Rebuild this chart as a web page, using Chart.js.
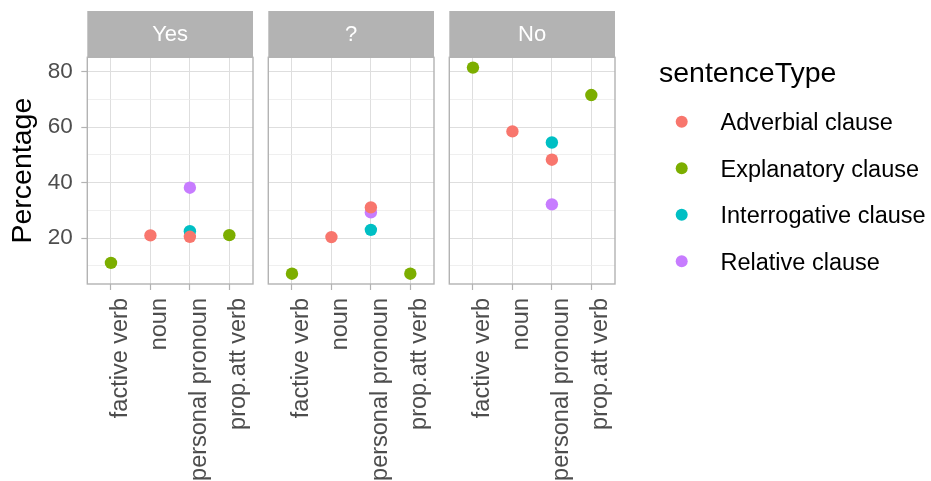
<!DOCTYPE html>
<html>
<head>
<meta charset="utf-8">
<script src="https://cdn.jsdelivr.net/npm/chart.js@4/dist/chart.umd.min.js"></script>
<style>
  html, body { margin: 0; padding: 0; background: #ffffff; }
  #wrap { position: relative; width: 931px; height: 481px; overflow: hidden; }
  #wrap canvas { position: absolute; left: 0; top: 0; }
</style>
</head>
<body>
<div id="wrap">
  <canvas id="p0" width="931" height="481"></canvas>
  <canvas id="p1" width="931" height="481"></canvas>
  <canvas id="p2" width="931" height="481"></canvas>
</div>
<script>
// Categories on the x axis of every facet
const categories = ['factive verb', 'noun', 'personal pronoun', 'prop.att verb'];
// Facet headings, left to right
const panels = ['Yes', '?', 'No'];
// Legend entries and their hue palette
const seriesNames = ['Adverbial clause', 'Explanatory clause', 'Interrogative clause', 'Relative clause'];
const seriesColors = ['#F8766D', '#7CAE00', '#00BFC4', '#C77CFF'];
// Percentage values: one row per facet (Yes, ?, No), one column per category
const adverbial     = [[null, 21.0, 20.5, null], [null, 20.4, 31.1, null], [null, 58.5, 48.3, null]];
const explanatory   = [[11.1, null, null, 21.1], [7.2, null, null, 7.2], [81.5, null, null, 71.6]];
const interrogative = [[null, null, 22.5, null], [null, null, 23.0, null], [null, null, 54.5, null]];
const relative      = [[null, null, 38.2, null], [null, null, 29.3, null], [null, null, 32.2, null]];
// Labelled y ticks and the minor grid between them
const yMajorTicks = [20, 40, 60, 80];
const yMinorTicks = [10, 30, 50, 70];

const seriesValues = [adverbial, explanatory, interrogative, relative];

// Facet geometry
const W = 931, H = 481;
const panelLefts = [87.3, 268.3, 449.3];
const panelWidth = 165.7;
const plotTop = 57.3, plotBottom = 284, stripTop = 11;

const FONT = '"Liberation Sans", Arial, Helvetica, sans-serif';
const GREY70 = '#B3B3B3';
const GRID = '#DEDEDE';
const GRID_MINOR = '#EBEBEB';

// Shared y range with 5% padding on each side
const allVals = seriesValues.flat(2).filter(v => v !== null);
const vMin = Math.min(...allVals), vMax = Math.max(...allVals);
const pad = (vMax - vMin) * 0.05;
const yMin = vMin - pad, yMax = vMax + pad;
const yAllTicks = [...yMinorTicks, ...yMajorTicks].sort((a, b) => a - b);
const isMajor = v => yMajorTicks.includes(v);

// Facet strip and panel frame
const facetFrame = {
  id: 'facetFrame',
  afterDraw(chart, args, opts) {
    const { ctx, chartArea: a } = chart;
    ctx.save();
    ctx.fillStyle = GREY70;
    ctx.fillRect(a.left, stripTop, a.right - a.left, a.top - stripTop);
    ctx.fillStyle = '#FFFFFF';
    ctx.font = '22px ' + FONT;
    ctx.textAlign = 'center';
    ctx.textBaseline = 'alphabetic';
    ctx.fillText(opts.label, (a.left + a.right) / 2, 40.5);
    ctx.strokeStyle = GREY70;
    ctx.lineWidth = 1.4;
    ctx.strokeRect(a.left, a.top, a.right - a.left, a.bottom - a.top);
    ctx.restore();
  }
};

// Legend for the colour scale, drawn beside the last facet
const colourLegend = {
  id: 'colourLegend',
  afterDraw(chart, args, opts) {
    if (!opts.show) return;
    const ctx = chart.ctx;
    ctx.save();
    ctx.fillStyle = '#000000';
    ctx.textAlign = 'left';
    ctx.textBaseline = 'alphabetic';
    ctx.font = '28.5px ' + FONT;
    ctx.fillText('sentenceType', 659, 82);
    ctx.font = '23.5px ' + FONT;
    seriesNames.forEach((name, i) => {
      const cy = 121.7 + i * 46.5;
      ctx.fillStyle = seriesColors[i];
      ctx.beginPath();
      ctx.arc(681.7, cy, 6, 0, Math.PI * 2);
      ctx.fill();
      ctx.fillStyle = '#000000';
      ctx.fillText(name, 720.5, cy + 8.6);
    });
    ctx.restore();
  }
};

panels.forEach((panel, p) => {
  const left = panelLefts[p];
  const first = p === 0;
  const datasets = seriesNames.map((name, s) => ({
    label: name,
    data: categories
      .map((c, j) => seriesValues[s][p][j] === null ? null : { x: j, y: seriesValues[s][p][j] })
      .filter(d => d !== null),
    pointBackgroundColor: seriesColors[s],
    pointBorderWidth: 0,
    pointRadius: 6.2,
    pointHoverRadius: 6.2,
    showLine: false
  }));

  new Chart(document.getElementById('p' + p), {
    type: 'scatter',
    data: { datasets },
    plugins: [facetFrame, colourLegend],
    options: {
      responsive: false,
      animation: false,
      events: [],
      layout: { padding: { left: 0, top: plotTop, right: W - (left + panelWidth), bottom: 0 } },
      plugins: {
        legend: { display: false },
        tooltip: { enabled: false },
        facetFrame: { label: panel },
        colourLegend: { show: p === panels.length - 1 }
      },
      scales: {
        x: {
          type: 'linear',
          bounds: 'data',
          min: -0.6,
          max: categories.length - 1 + 0.6,
          afterBuildTicks: scale => { scale.ticks = categories.map((c, i) => ({ value: i })); },
          afterFit: scale => { scale.height = H - plotBottom; },
          ticks: {
            autoSkip: false,
            minRotation: 90,
            maxRotation: 90,
            padding: 8,
            labelOffset: 9.5,
            color: '#4D4D4D',
            font: { family: FONT, size: 23.5 },
            callback: v => categories[v]
          },
          grid: { color: GRID, lineWidth: 1, drawTicks: true, tickLength: 6, tickColor: GREY70, tickWidth: 1.2 },
          border: { display: false }
        },
        y: {
          type: 'linear',
          bounds: 'data',
          min: yMin,
          max: yMax,
          afterBuildTicks: scale => { scale.ticks = yAllTicks.map(v => ({ value: v })); },
          afterFit: scale => { scale.width = left; },
          title: {
            display: first,
            text: 'Percentage',
            color: '#000000',
            font: { family: FONT, size: 28.5 },
            padding: { top: 6.3, bottom: 0 }
          },
          ticks: {
            display: first,
            padding: 8.5,
            color: '#4D4D4D',
            font: { family: FONT, size: 22.5 },
            callback: v => isMajor(v) ? String(v) : ''
          },
          grid: {
            color: ctx => (ctx.tick && isMajor(ctx.tick.value)) ? GRID : GRID_MINOR,
            lineWidth: ctx => (ctx.tick && isMajor(ctx.tick.value)) ? 1 : 0.8,
            drawTicks: first,
            tickLength: 6,
            tickWidth: 1.2,
            tickColor: ctx => (ctx.tick && isMajor(ctx.tick.value)) ? GREY70 : 'rgba(0,0,0,0)'
          },
          border: { display: false }
        }
      }
    }
  });
});
</script>
</body>
</html>
